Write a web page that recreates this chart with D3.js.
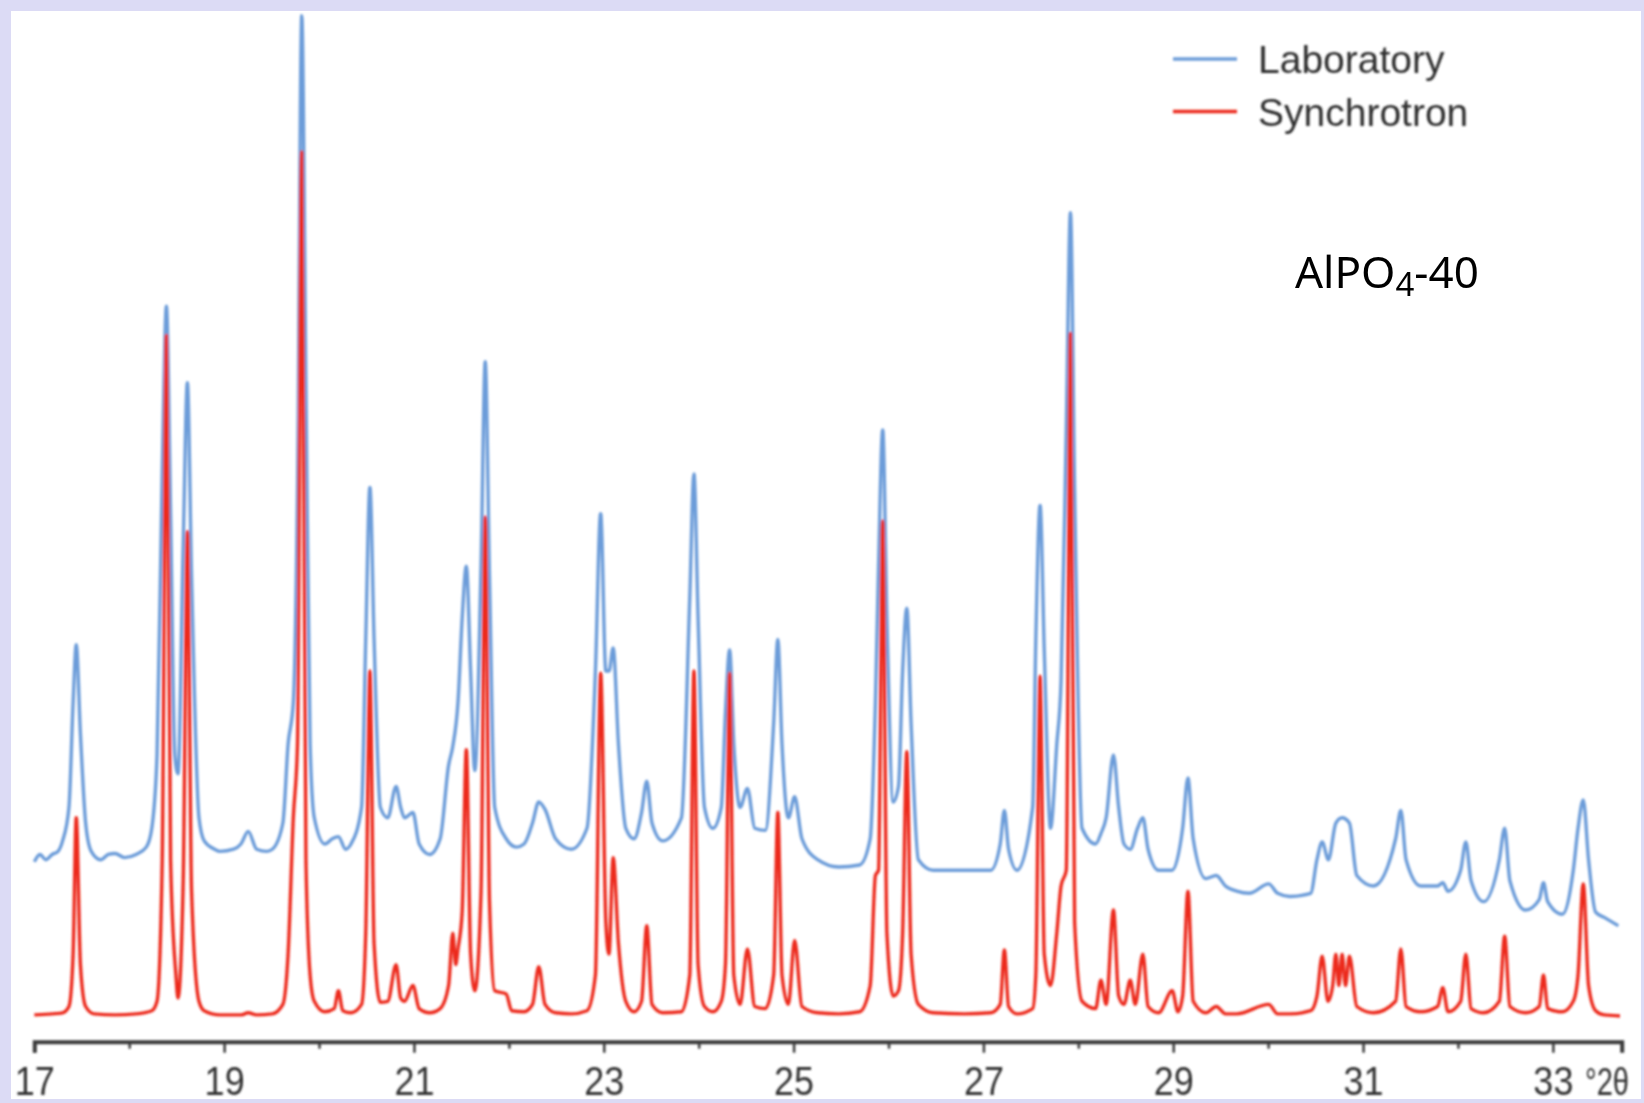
<!DOCTYPE html>
<html>
<head>
<meta charset="utf-8">
<title>AlPO4-40 powder diffraction</title>
<script src="https://cdn.jsdelivr.net/npm/d3@7"></script>
<style>
  html, body { margin: 0; padding: 0; background: #dcdbf5; }
  svg { display: block; }
</style>
</head>
<body>
<svg id="chart" width="1644" height="1103"></svg>
<script>
// Laboratory pattern: [2θ (deg), intensity (a.u.)]
const laboratory = [
  [17.000,148],[17.060,155],[17.120,150],[17.188,155],[17.250,158],[17.298,168],[17.365,200],
  [17.409,300],[17.442,355],[17.486,270],[17.541,185],[17.600,158],[17.700,150],[17.780,155],
  [17.851,156],[17.950,152],[18.072,155],[18.180,162],[18.238,180],[18.293,250],[18.348,520],
  [18.392,678],[18.436,480],[18.480,250],[18.514,232],[18.569,450],[18.613,605],[18.657,420],
  [18.735,190],[18.790,168],[18.900,160],[18.956,158],[19.100,160],[19.177,165],[19.254,177],
  [19.343,160],[19.450,158],[19.508,160],[19.619,185],[19.674,260],[19.729,300],[19.773,500],
  [19.818,955],[19.862,600],[19.906,260],[19.950,190],[20.061,165],[20.140,170],[20.204,172],
  [20.280,160],[20.337,165],[20.448,200],[20.492,360],[20.536,505],[20.580,360],[20.646,200],
  [20.724,190],[20.812,220],[20.860,200],[20.901,190],[20.989,195],[21.055,165],[21.166,155],
  [21.276,170],[21.365,240],[21.409,258],[21.464,300],[21.508,380],[21.552,430],[21.597,330],
  [21.641,235],[21.707,430],[21.751,625],[21.796,420],[21.851,200],[21.972,170],[22.080,162],
  [22.160,165],[22.249,185],[22.315,205],[22.381,198],[22.492,170],[22.657,160],[22.823,180],
  [22.912,330],[22.967,480],[23.022,330],[23.055,330],[23.099,352],[23.155,260],[23.232,180],
  [23.320,170],[23.398,195],[23.453,225],[23.508,185],[23.619,168],[23.818,190],[23.906,400],
  [23.950,518],[23.994,380],[24.061,200],[24.149,180],[24.238,200],[24.282,290],[24.326,350],
  [24.370,260],[24.436,200],[24.514,218],[24.591,180],[24.702,178],[24.790,280],[24.834,360],
  [24.878,260],[24.945,190],[25.011,210],[25.088,170],[25.254,150],[25.475,143],[25.696,145],
  [25.807,170],[25.862,300],[25.895,430],[25.939,560],[25.983,380],[26.050,205],[26.105,220],
  [26.149,330],[26.193,390],[26.238,280],[26.315,150],[26.470,140],[26.801,140],[27.077,140],
  [27.177,165],[27.221,197],[27.265,160],[27.354,140],[27.519,200],[27.552,360],[27.597,488],
  [27.641,350],[27.707,180],[27.773,260],[27.818,320],[27.873,560],[27.917,767],[27.961,500],
  [28.039,180],[28.182,165],[28.238,175],[28.293,190],[28.370,250],[28.425,200],[28.481,165],
  [28.547,160],[28.624,180],[28.680,190],[28.735,160],[28.845,140],[28.989,140],[29.099,180],
  [29.155,228],[29.210,170],[29.343,132],[29.453,135],[29.550,125],[29.669,120],[29.800,118],
  [30.006,127],[30.100,118],[30.227,115],[30.448,118],[30.514,150],[30.569,167],[30.635,150],
  [30.713,185],[30.779,190],[30.856,185],[30.934,135],[31.110,125],[31.343,170],[31.398,197],
  [31.453,150],[31.608,125],[31.785,125],[31.840,128],[31.895,120],[32.028,140],[32.083,167],
  [32.138,130],[32.271,110],[32.436,150],[32.492,180],[32.547,130],[32.713,102],[32.856,112],
  [32.901,128],[32.945,110],[33.099,98],[33.215,140],[33.265,180],[33.320,207],[33.376,150],
  [33.450,100],[33.541,95],[33.690,87]
];

// Synchrotron pattern: [2θ (deg), intensity (a.u.)]
const synchrotron = [
  [17.000,2],[17.188,3],[17.298,4],[17.365,10],[17.409,60],[17.442,190],[17.486,50],[17.541,10],
  [17.630,3],[17.851,2],[18.072,3],[18.238,6],[18.293,15],[18.348,150],[18.392,650],[18.436,150],
  [18.492,40],[18.514,18],[18.569,130],[18.613,463],[18.657,120],[18.735,15],[18.790,6],[18.956,2],
  [19.177,2],[19.254,4],[19.343,2],[19.508,3],[19.619,12],[19.674,60],[19.729,190],[19.773,260],
  [19.818,825],[19.862,150],[19.906,40],[19.950,15],[20.061,5],[20.160,8],[20.204,25],[20.250,6],
  [20.337,4],[20.448,12],[20.492,80],[20.536,330],[20.580,70],[20.646,14],[20.724,15],[20.812,50],
  [20.860,18],[20.901,15],[20.989,30],[21.055,8],[21.166,4],[21.276,8],[21.365,30],[21.409,80],
  [21.440,50],[21.464,65],[21.508,100],[21.552,255],[21.597,60],[21.641,25],[21.707,120],
  [21.751,477],[21.796,110],[21.851,25],[21.972,22],[22.030,6],[22.160,5],[22.249,12],[22.315,48],
  [22.381,12],[22.492,4],[22.657,3],[22.823,6],[22.912,40],[22.967,328],[23.022,90],[23.055,60],
  [23.099,152],[23.155,70],[23.232,15],[23.320,5],[23.398,15],[23.453,87],[23.508,12],[23.619,4],
  [23.818,5],[23.906,40],[23.950,330],[23.994,50],[24.061,10],[24.149,5],[24.238,15],[24.282,50],
  [24.326,328],[24.370,40],[24.436,12],[24.514,65],[24.591,10],[24.702,8],[24.790,40],[24.834,195],
  [24.878,40],[24.945,12],[25.011,73],[25.088,10],[25.254,4],[25.475,3],[25.696,5],[25.807,30],
  [25.862,135],[25.895,140],[25.939,473],[25.983,80],[26.050,20],[26.105,25],[26.149,80],
  [26.193,253],[26.238,60],[26.315,12],[26.470,4],[26.801,3],[27.077,4],[27.177,12],[27.221,64],
  [27.265,10],[27.354,3],[27.519,8],[27.552,40],[27.597,325],[27.641,60],[27.707,30],[27.773,80],
  [27.818,125],[27.873,140],[27.917,652],[27.961,90],[28.039,15],[28.182,8],[28.238,35],[28.293,12],
  [28.370,102],[28.425,20],[28.481,12],[28.547,35],[28.600,12],[28.680,60],[28.735,10],[28.845,4],
  [28.989,25],[29.050,5],[29.099,20],[29.155,120],[29.210,15],[29.343,4],[29.453,10],[29.550,3],
  [29.669,3],[30.006,12],[30.100,3],[30.227,3],[30.448,6],[30.514,20],[30.569,58],[30.630,15],
  [30.680,30],[30.713,60],[30.745,30],[30.779,60],[30.815,30],[30.856,58],[30.934,10],[31.110,4],
  [31.343,15],[31.398,65],[31.453,10],[31.608,5],[31.785,10],[31.840,28],[31.895,5],[32.028,15],
  [32.083,60],[32.138,8],[32.271,4],[32.436,15],[32.492,77],[32.547,10],[32.713,4],[32.856,10],
  [32.901,40],[32.945,8],[33.099,5],[33.215,15],[33.265,40],[33.320,127],[33.376,30],[33.450,6],
  [33.541,2],[33.707,1]
];

const seriesNames = ["Laboratory", "Synchrotron"];
const seriesColors = ["#6c9cd9", "#ec2b1f"];
const tickValues = d3.range(17, 34);          // one tick per degree
const tickLabels = [17, 19, 21, 23, 25, 27, 29, 31, 33];
const axisUnit = "°2θ";

const svg = d3.select("#chart");

// panel
svg.append("rect").attr("x", 0).attr("y", 0).attr("width", 1644).attr("height", 1103).attr("fill", "#dcdbf5");
svg.append("rect").attr("x", 11).attr("y", 11).attr("width", 1630).attr("height", 1088).attr("fill", "#ffffff");

const defs = svg.append("defs");
defs.append("filter").attr("id", "soft")
  .attr("x", "-5%").attr("y", "-5%").attr("width", "110%").attr("height", "110%")
  .append("feGaussianBlur").attr("stdDeviation", 1.0);

const x = d3.scaleLinear().domain([17, 33.725]).range([34.3, 1621.7]);
const y = d3.scaleLinear().domain([0, 955]).range([1017, 15.7]);

const g = svg.append("g").attr("filter", "url(#soft)");

const line = d3.line()
  .x(d => x(d[0]))
  .y(d => y(d[1]))
  .curve(d3.curveMonotoneX);

g.append("path").datum(laboratory)
  .attr("d", line).attr("fill", "none")
  .attr("stroke", seriesColors[0]).attr("stroke-width", 3.4).attr("stroke-linejoin", "round");

g.append("path").datum(synchrotron)
  .attr("d", line).attr("fill", "none")
  .attr("stroke", seriesColors[1]).attr("stroke-width", 3.4).attr("stroke-linejoin", "round");

const axisFont = "'Liberation Sans', Arial, sans-serif";

// x axis
const axis = d3.axisBottom(x)
  .tickValues(tickValues)
  .tickSizeOuter(0)
  .tickSize(11)
  .tickFormat(d => tickLabels.includes(d) ? d : "");

const ax = g.append("g").attr("transform", "translate(0,1041.7)").call(axis);
ax.select(".domain").attr("stroke", "#3a3a3a").attr("stroke-width", 4);
ax.selectAll(".tick line")
  .attr("stroke", "#3a3a3a").attr("stroke-width", 2.5)
  .attr("y2", d => tickLabels.includes(d) ? 11 : 7);
ax.selectAll(".tick text")
  .attr("y", 53).attr("dy", 0)
  .attr("fill", "#333")
  .attr("transform", "scale(0.9,1)")
  .style("font-family", axisFont)
  .style("font-size", "40px");

// unit label after the last tick value
g.append("text")
  .attr("x", 1585).attr("y", 1094.7)
  .attr("fill", "#333")
  .attr("textLength", 44)
  .attr("lengthAdjust", "spacingAndGlyphs")
  .style("font-family", axisFont)
  .style("font-size", "38px")
  .text(axisUnit);

// legend
const legend = g.append("g");
seriesNames.forEach((name, i) => {
  const ly = 59 + i * 52.5;
  legend.append("line")
    .attr("x1", 1173).attr("x2", 1237).attr("y1", ly).attr("y2", ly)
    .attr("stroke", seriesColors[i]).attr("stroke-width", 3.5);
  legend.append("text")
    .attr("x", 1258).attr("y", ly + 14)
    .attr("fill", "#2e2e2e")
    .style("font-family", axisFont)
    .style("font-size", "39px")
    .text(name);
});

// sample label
const label = svg.append("text")
  .attr("x", 1295).attr("y", 288)
  .attr("fill", "#000")
  .style("font-family", "'Noto Sans', 'Open Sans', sans-serif")
  .style("font-size", "44px");
label.append("tspan").text("AlPO");
label.append("tspan").attr("dy", 8).style("font-size", "33px").text("4");
label.append("tspan").attr("dy", -8).text("-40");
</script>
</body>
</html>
